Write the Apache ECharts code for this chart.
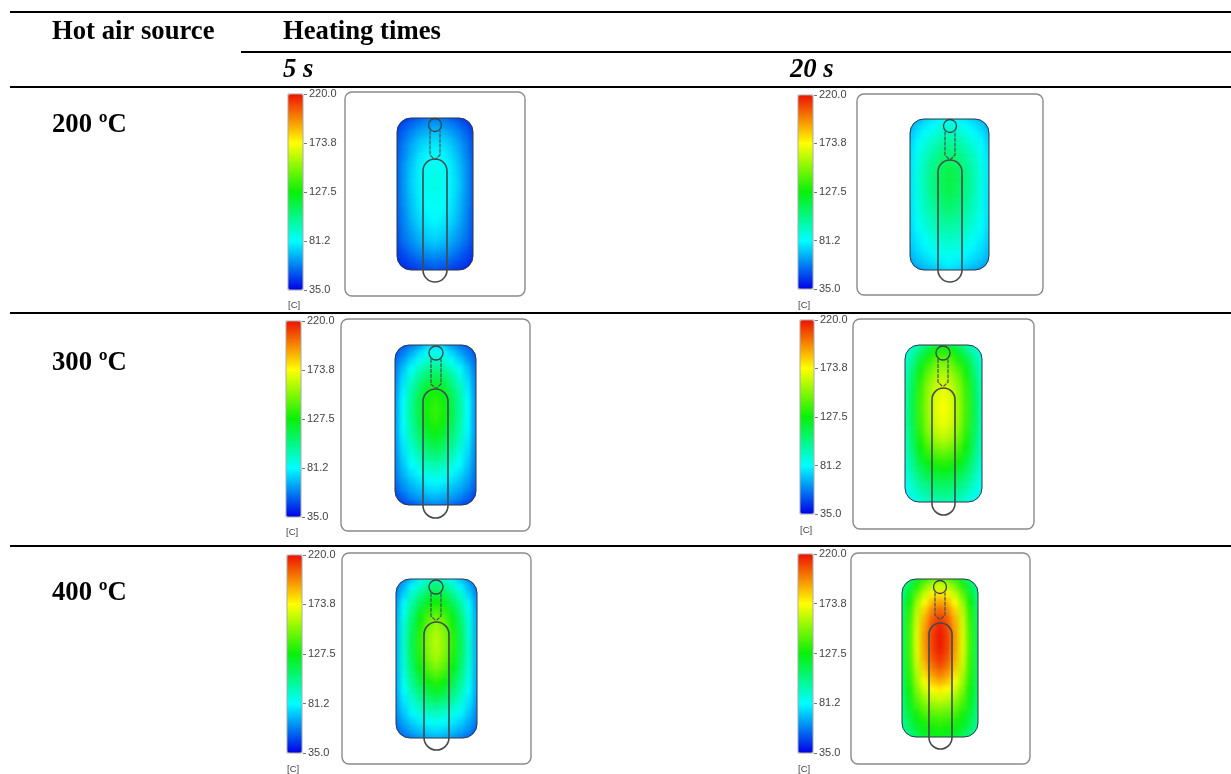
<!DOCTYPE html>
<html><head><meta charset="utf-8">
<style>html,body{margin:0;padding:0;background:#fff}#c{width:1231px;height:774px}</style>
<script src="https://cdn.jsdelivr.net/npm/echarts@6/dist/echarts.min.js"></script>
</head><body><div id="c"></div>
<script>
const scaleTicks = [35.0, 81.2, 127.5, 173.8, 220.0];
const scaleUnit = '[C]';
const sourceTemps = ['200 ºC', '300 ºC', '400 ºC'];
const heatingTimes = ['5 s', '20 s'];
const field200at5 = [
[40,44,48,52,55,56,55,52,48,44,40],[44,50,55,59,62,64,62,59,55,50,44],[47,54,60,65,68,70,68,65,60,54,47],
[49,57,64,70,73,75,73,70,64,57,49],[50,59,67,73,77,79,77,73,67,59,50],[51,60,69,76,80,82,80,76,69,60,51],
[52,62,71,78,82,84,82,78,71,62,52],[52,63,72,79,83,85,83,79,72,63,52],[52,63,73,79,84,86,84,79,73,63,52],
[52,63,73,79,84,86,84,79,73,63,52],[52,63,72,79,83,85,83,79,72,63,52],[52,62,71,78,82,84,82,78,71,62,52],
[51,61,70,77,81,83,81,77,70,61,51],[51,60,69,75,79,81,79,75,69,60,51],[50,59,67,73,77,79,77,73,67,59,50],
[49,58,64,70,74,76,74,70,64,58,49],[48,56,62,67,71,73,71,67,62,56,48],[46,53,58,63,66,68,66,63,58,53,46],
[44,49,54,58,60,62,60,58,54,49,44],[42,46,49,52,54,56,54,52,49,46,42],[38,41,44,46,48,50,48,46,44,41,38]];
const field200at20 = [
[60,67,72,76,80,82,80,76,72,67,60],[66,73,78,82,87,89,87,82,78,73,66],[70,77,82,87,92,94,92,87,82,77,70],
[72,80,87,92,97,99,97,92,87,80,72],[74,83,90,96,102,105,102,96,90,83,74],[75,85,93,100,106,109,106,100,93,85,75],
[76,86,95,103,110,113,110,103,95,86,76],[76,87,97,105,112,116,112,105,97,87,76],[76,87,97,106,113,117,113,106,97,87,76],
[76,87,97,105,112,116,112,105,97,87,76],[76,86,96,104,111,114,111,104,96,86,76],[76,86,95,102,108,111,108,102,95,86,76],
[75,85,93,100,105,108,105,100,93,85,75],[75,84,91,97,102,104,102,97,91,84,75],[74,82,89,94,98,100,98,94,89,82,74],
[73,80,86,91,95,96,95,91,86,80,73],[72,78,83,87,90,92,90,87,83,78,72],[70,76,80,84,87,88,87,84,80,76,70],
[68,73,77,80,83,84,83,80,77,73,68],[64,70,73,76,78,80,78,76,73,70,64],[58,63,67,70,73,75,73,70,67,63,58]];
const field300at5 = [
[44,51,57,63,72,76,72,63,57,51,44],[50,58,66,74,82,85,82,74,66,58,50],[54,64,74,83,91,94,91,83,74,64,54],
[57,70,82,92,101,104,101,92,82,70,57],[59,74,88,100,110,114,110,100,88,74,59],[60,77,93,106,118,123,118,106,93,77,60],
[61,79,97,112,124,130,124,112,97,79,61],[62,81,99,115,128,134,128,115,99,81,62],[62,82,100,116,130,136,130,116,100,82,62],
[62,82,100,115,129,135,129,115,100,82,62],[62,81,98,113,126,131,126,113,98,81,62],[62,80,96,109,121,126,121,109,96,80,62],
[61,78,93,105,115,120,115,105,93,78,61],[60,76,89,100,109,113,109,100,89,76,60],[59,74,85,94,102,105,102,94,85,74,59],
[58,71,81,88,94,97,94,88,81,71,58],[56,68,76,82,87,90,87,82,76,68,56],[54,64,71,76,80,83,80,76,71,64,54],
[51,60,66,70,74,76,74,70,66,60,51],[47,54,60,64,67,69,67,64,60,54,47],[42,47,51,55,58,60,58,55,51,47,42]];
const field300at20 = [
[80,88,98,108,118,122,118,108,98,88,80],[85,96,108,120,131,134,131,120,108,96,85],[88,102,118,131,142,145,142,131,118,102,88],
[90,106,125,139,150,153,150,139,125,106,90],[92,110,130,146,156,160,156,146,130,110,92],[93,112,134,150,161,166,161,150,134,112,93],
[94,114,136,153,165,170,165,153,136,114,94],[94,115,137,154,167,172,167,154,137,115,94],[94,115,138,155,168,173,168,155,138,115,94],
[94,115,137,154,167,172,167,154,137,115,94],[94,114,136,153,165,170,165,153,136,114,94],[93,113,134,150,161,166,161,150,134,113,93],
[92,111,131,146,156,160,156,146,131,111,92],[91,109,127,140,148,152,148,140,127,109,91],[90,106,122,134,140,143,140,134,122,106,90],
[88,103,117,127,132,134,132,127,117,103,88],[86,99,111,119,124,126,124,119,111,99,86],[84,95,105,112,116,118,116,112,105,95,84],
[82,91,99,105,109,110,109,105,99,91,82],[79,87,94,99,103,104,103,99,94,87,79],[75,82,88,92,95,96,95,92,88,82,75]];
const field400at5 = [
[50,60,70,80,90,96,90,80,70,60,50],[56,68,80,92,103,108,103,92,80,68,56],[60,74,90,103,114,118,114,103,90,74,60],
[63,80,98,112,124,128,124,112,98,80,63],[65,84,104,120,133,138,133,120,104,84,65],[66,87,108,126,141,148,141,126,108,87,66],
[67,89,111,130,147,155,147,130,111,89,67],[67,90,113,133,151,159,151,133,113,90,67],[67,91,114,134,152,160,152,134,114,91,67],
[67,91,114,133,151,159,151,133,114,91,67],[67,90,112,131,148,156,148,131,112,90,67],[67,89,110,127,143,150,143,127,110,89,67],
[66,87,106,122,136,142,136,122,106,87,66],[66,85,102,116,128,133,128,116,102,85,66],[65,82,97,109,119,123,119,109,97,82,65],
[64,78,91,102,110,113,110,102,91,78,64],[62,75,86,94,100,103,100,94,86,75,62],[60,71,80,86,90,93,90,86,80,71,60],
[57,66,73,78,82,84,82,78,73,66,57],[53,61,67,71,74,76,74,71,67,61,53],[48,54,59,63,66,68,66,63,59,54,48]];
const field400at20 = [
[94,106,120,134,144,148,144,134,120,106,94],[100,114,133,150,161,165,161,150,133,114,100],[104,122,145,163,176,180,176,163,145,122,104],
[106,128,154,174,188,192,188,174,154,128,106],[108,132,160,182,198,204,198,182,160,132,108],[109,134,164,188,205,212,205,188,164,134,109],
[110,136,166,191,209,217,209,191,166,136,110],[110,137,168,193,211,219,211,193,168,137,110],[110,137,168,193,211,219,211,193,168,137,110],
[110,137,168,192,210,218,210,192,168,137,110],[110,136,166,190,207,214,207,190,166,136,110],[110,135,163,186,202,208,202,186,163,135,110],
[109,133,159,180,194,200,194,180,159,133,109],[109,131,155,173,185,190,185,173,155,131,109],[108,128,150,165,174,178,174,165,150,128,108],
[107,125,144,156,163,166,163,156,144,125,107],[106,122,138,148,153,155,153,148,138,122,106],[104,118,131,140,143,145,143,140,131,118,104],
[102,114,125,132,135,137,135,132,125,114,102],[99,109,119,126,129,131,129,126,119,109,99],[92,102,112,119,122,125,122,119,112,102,92]];

const fields = [field200at5, field200at20, field300at5, field300at20, field400at5, field400at20];

// layout only: pixel rectangles of each panel's parts
const layout = [
 {bar:[288,94,15,196], unitY:304, frame:[345,92,180,204], heat:[397,118,76,152], head:[435,125,6.5], neckB:159, loop:[423,159,24,123]},
 {bar:[798,95,15,194], unitY:304, frame:[857,94,186,201], heat:[910,119,79,151], head:[950,126,6.5], neckB:159, loop:[938,160,24,122]},
 {bar:[286,321,15,196], unitY:531, frame:[341,319,189,212], heat:[395,345,81,160], head:[436,353,7], neckB:388, loop:[423,389,25,129]},
 {bar:[800,320,14,194], unitY:529, frame:[853,319,181,210], heat:[905,345,77,157], head:[943,353,7], neckB:386, loop:[932,388,23,127]},
 {bar:[287,555,15,198], unitY:768, frame:[342,553,189,211], heat:[396,579,81,159], head:[436,587,7], neckB:620, loop:[424,622,25,128]},
 {bar:[798,554,15,199], unitY:768, frame:[851,553,179,211], heat:[902,579,76,158], head:[940,587,6.5], neckB:619, loop:[929,623,23,126]}
];
const rules = [[10,12,1231],[241,52,1231],[10,87,1231],[10,313,1231],[10,546,1231]];
const serif = '"Liberation Serif","Times New Roman",serif';
const sans = '"Liberation Sans",Arial,sans-serif';
const colorStops = ['#0000e6','#00ffff','#08f008','#ffff00','#ee1200'];

const grid=[], xAxis=[], yAxis=[], series=[], visualMap=[], graphic=[];
const Z = 100, TOP = 1, PAD = 4;
function txt(s,x,y,font,fill){graphic.push({type:'text',z:Z,zlevel:TOP,silent:true,style:{text:s,x:x,y:y,font:font,fill:fill||'#000'}});}
function add(el){el.z=el.z||Z;el.zlevel=TOP;el.silent=true;graphic.push(el);}

fields.forEach((f,i)=>{
  const L = layout[i];
  grid.push({left:L.heat[0]-PAD,top:L.heat[1]-PAD,width:L.heat[2]+2*PAD,height:L.heat[3]+2*PAD});
  xAxis.push({type:'category',gridIndex:i,show:false,data:f[0].map((_,k)=>k)});
  yAxis.push({type:'category',gridIndex:i,show:false,inverse:true,data:f.map((_,k)=>k)});
  const d=[]; f.forEach((row,r)=>row.forEach((v,c)=>d.push([c,r,v])));
  series.push({type:'heatmap',name:sourceTemps[Math.floor(i/2)]+' / '+heatingTimes[i%2],xAxisIndex:i,yAxisIndex:i,data:d,
    emphasis:{disabled:true},itemStyle:{borderWidth:0},progressive:0,animation:false,zlevel:0});
  visualMap.push({type:'continuous',seriesIndex:i,min:scaleTicks[0],max:scaleTicks[4],calculable:false,realtime:false,zlevel:TOP,
    left:L.bar[0],top:L.bar[1],itemWidth:L.bar[2],itemHeight:L.bar[3],padding:0,text:null,showLabel:false,
    inRange:{color:colorStops},hoverLink:false});
});
fields.forEach((f,i)=>{
  const L=layout[i], gi=grid.length;
  grid.push({left:L.bar[0]+L.bar[2],top:L.bar[1],width:1,height:L.bar[3]});
  xAxis.push({type:'value',gridIndex:gi,show:false,min:0,max:1});
  yAxis.push({type:'value',gridIndex:gi,position:'right',offset:-1,zlevel:TOP,min:scaleTicks[0],max:scaleTicks[4],splitLine:{show:false},
    axisLine:{show:false},axisTick:{show:true,length:3,lineStyle:{color:'#777'},customValues:scaleTicks},
    axisLabel:{customValues:scaleTicks,margin:6,fontFamily:sans,fontSize:11,color:'#444',formatter:v=>Number(v).toFixed(1)}});
  txt(scaleUnit,L.bar[0],L.unitY-4,'9.5px '+sans,'#444');
  add({type:'rect',shape:{x:L.bar[0],y:L.bar[1],width:L.bar[2],height:L.bar[3]},style:{fill:'transparent',stroke:'#aaa',lineWidth:1}});
  add({type:'rect',shape:{x:L.frame[0],y:L.frame[1],width:L.frame[2],height:L.frame[3],r:7},style:{fill:'transparent',stroke:'#8a8a8a',lineWidth:1.4}});
  const [hx,hy,hw,hh]=L.heat;
  add({type:'rect',shape:{x:hx-8,y:hy-8,width:hw+16,height:hh+16,r:22},style:{fill:'transparent',stroke:'#fff',lineWidth:16}});
  add({type:'rect',z:Z+1,shape:{x:hx,y:hy,width:hw,height:hh,r:14},style:{fill:'transparent',stroke:'#2b3440',lineWidth:1}});
  const [cx,cy,cr]=L.head;
  add({type:'circle',z:Z+2,shape:{cx:cx,cy:cy,r:cr},style:{fill:'transparent',stroke:'#3b4248',lineWidth:1.3}});
  add({type:'polyline',z:Z+2,shape:{points:[[cx-5,cy+cr-1],[cx-5,L.neckB-4],[cx-1,L.neckB],[cx+1,L.neckB],[cx+5,L.neckB-4],[cx+5,cy+cr-1]]},style:{fill:'transparent',stroke:'#4a5056',lineWidth:1.2,lineDash:[4,1]}});
  add({type:'rect',z:Z+2,shape:{x:L.loop[0],y:L.loop[1],width:L.loop[2],height:L.loop[3],r:L.loop[2]/2},style:{fill:'transparent',stroke:'#444a4e',lineWidth:1.6}});
});
rules.forEach(r=>add({type:'line',shape:{x1:r[0],y1:r[1],x2:r[2],y2:r[1]},style:{stroke:'#000',lineWidth:2}}));
const bold='bold 26.7px '+serif, boldIt='italic bold 26.7px '+serif;
txt('Hot air source',52,19,bold);
txt('Heating times',283,19,bold);
txt(heatingTimes[0],283,57,boldIt);
txt(heatingTimes[1],790,57,boldIt);
txt(sourceTemps[0],52,112,bold);
txt(sourceTemps[1],52,350,bold);
txt(sourceTemps[2],52,580,bold);

const chart = echarts.init(document.getElementById('c'),null,{renderer:'canvas'});
chart.setOption({animation:false,backgroundColor:'#fff',grid,xAxis,yAxis,visualMap,series,graphic:{elements:graphic}});
// soften the cell edges of the bottom layer (heat fields only)
const base = chart.getDom().querySelector('canvas');
if (base) base.style.filter = 'blur(2.6px)';
</script></body></html>
